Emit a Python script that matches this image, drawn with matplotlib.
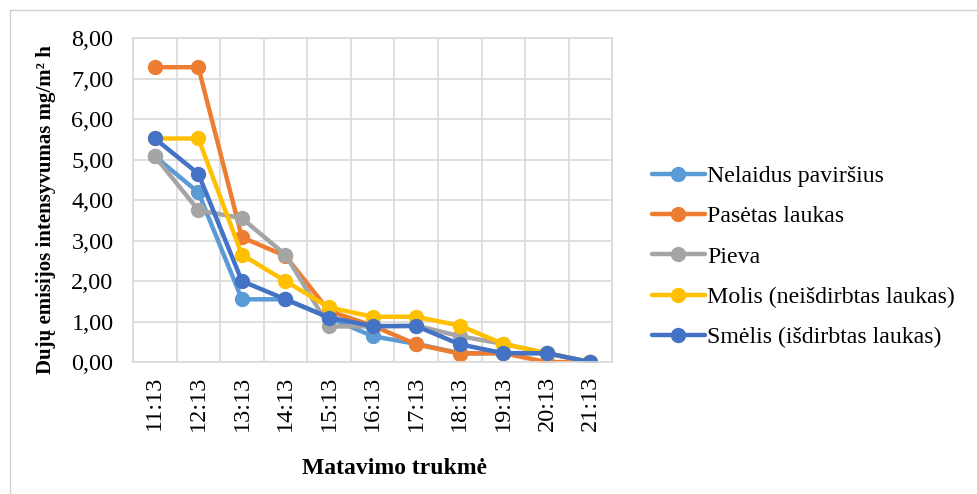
import matplotlib.pyplot as plt
import numpy as np
from matplotlib.lines import Line2D

plt.rcParams['font.family'] = ['Liberation Serif', 'DejaVu Serif']

times = ["11:13", "12:13", "13:13", "14:13", "15:13", "16:13",
         "17:13", "18:13", "19:13", "20:13", "21:13"]

nelaidus = [5.08, 4.19, 1.55, 1.55, 1.10, 0.64, 0.45, 0.22, 0.22, 0.22, 0.0]
pasetas = [7.28, 7.28, 3.08, 2.62, 1.26, 0.90, 0.44, 0.21, 0.22, 0.0, 0.0]
pieva = [5.08, 3.75, 3.55, 2.65, 0.88, 0.88, 0.90, 0.64, 0.45, 0.22, 0.0]
molis = [5.52, 5.52, 2.65, 2.00, 1.35, 1.12, 1.12, 0.90, 0.45, 0.22, 0.0]
smelis = [5.52, 4.65, 2.00, 1.55, 1.10, 0.89, 0.89, 0.44, 0.22, 0.22, 0.0]

series = [
    ("Nelaidus paviršius", nelaidus, "#5B9BD5"),
    ("Pasėtas laukas", pasetas, "#ED7D31"),
    ("Pieva", pieva, "#A5A5A5"),
    ("Molis (neišdirbtas laukas)", molis, "#FFC000"),
    ("Smėlis (išdirbtas laukas)", smelis, "#4472C4"),
]

fig = plt.figure(figsize=(9.78, 4.94), dpi=100)
ax = fig.add_axes([0.136, 0.267, 0.490, 0.656])

x = np.arange(len(times))
for name, vals, col in series:
    ax.plot(x, vals, color=col, lw=3.2, marker='o', ms=10, label=name,
            solid_capstyle='round', solid_joinstyle='round')

ax.set_xlim(-0.5, len(times) - 0.5)
ax.set_ylim(0, 8)
ax.set_yticks(np.arange(0, 9, 1))
ax.set_yticklabels([f"{v:.2f}".replace('.', ',') for v in range(9)], fontsize=17.5)
ax.set_xticks(x)
ax.set_xticklabels(times, rotation=90, fontsize=17.5)
ax.set_xticks(np.arange(len(times) + 1) - 0.5, minor=True)
ax.tick_params(which='both', length=0)
ax.tick_params(axis='y', pad=14)
ax.tick_params(axis='x', pad=10)
ax.grid(axis='y', which='major', color='#D9D9D9', lw=1.2)
ax.grid(axis='x', which='minor', color='#D9D9D9', lw=1.2)
ax.set_axisbelow(True)
for s in ax.spines.values():
    s.set_color('#D9D9D9')
    s.set_linewidth(1.2)

ax.set_xlabel("Matavimo trukmė", fontsize=17, fontweight='bold')
ax.xaxis.set_label_coords(0.545, -0.295)
ax.set_ylabel("Dujų emisijos intensyvumas mg/m² h", fontsize=15,
              fontweight='bold')
ax.yaxis.set_label_coords(-0.16, 0.47)

ax.legend(loc='center left', bbox_to_anchor=(1.058, 0.325), frameon=False,
          fontsize=17.2, handlelength=2.2, handletextpad=0.1,
          labelspacing=0.78, borderpad=0)

# outer chart frame (cropped on the right and bottom)
fig.add_artist(Line2D([10 / 978, 10 / 978], [0, 1 - 10 / 494],
                      transform=fig.transFigure, color='#D0D0D0', lw=1))
fig.add_artist(Line2D([10 / 978, 1], [1 - 10 / 494, 1 - 10 / 494],
                      transform=fig.transFigure, color='#D0D0D0', lw=1))

fig.savefig("out.png", dpi=100)
